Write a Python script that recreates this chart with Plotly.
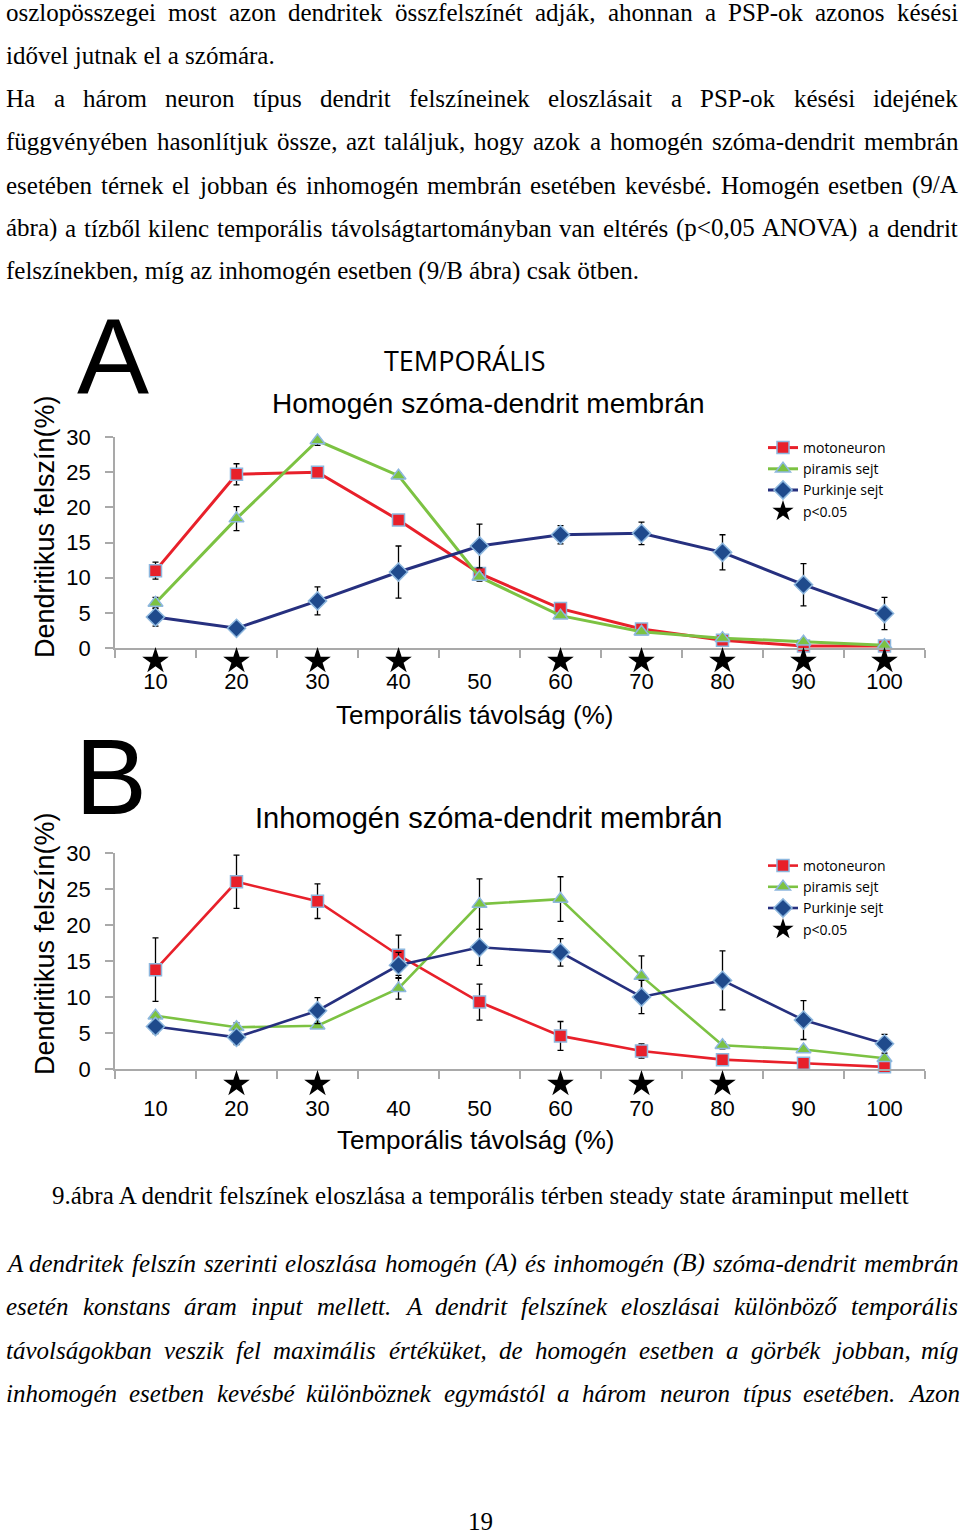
import unicodedata
import plotly.graph_objects as go

W, H = 960, 1537

# ---------------- data ----------------
distance = [10, 20, 30, 40, 50, 60, 70, 80, 90, 100]
dist_labels = ["10", "20", "30", "40", "50", "60", "70", "80", "90", "100"]
y_ticks = [0, 5, 10, 15, 20, 25, 30]
y_tick_labels = ["0", "5", "10", "15", "20", "25", "30"]

# Panel A - homogén szóma-dendrit membrán
A_moto = [11.0, 24.7, 25.0, 18.2, 10.6, 5.6, 2.7, 1.1, 0.3, 0.3]
A_moto_err = [1.2, 1.5, 0.3, 0.4, 0.8, 0.5, 0.3, 0.3, 0.3, 0.2]
A_pir = [6.4, 18.4, 29.5, 24.5, 10.1, 4.6, 2.3, 1.4, 0.9, 0.4]
A_pir_err = [0.8, 1.7, 0.7, 0.4, 0.6, 0.4, 0.3, 0.3, 0.3, 0.2]
A_purk = [4.4, 2.8, 6.7, 10.8, 14.5, 16.1, 16.3, 13.6, 9.0, 4.9]
A_purk_err = [1.3, 0.6, 2.0, 3.7, 3.1, 1.3, 1.6, 2.5, 3.0, 2.3]
A_stars = [10, 20, 30, 40, 60, 70, 80, 90, 100]

# Panel B - inhomogén szóma-dendrit membrán
B_moto = [13.8, 26.0, 23.3, 15.8, 9.3, 4.6, 2.5, 1.3, 0.8, 0.3]
B_moto_err = [4.4, 3.7, 2.4, 2.8, 2.5, 2.0, 1.0, 0.5, 0.4, 0.3]
B_pir = [7.4, 5.8, 6.0, 11.2, 22.9, 23.6, 12.9, 3.3, 2.7, 1.5]
B_pir_err = [0.4, 0.6, 0.3, 1.5, 3.5, 3.1, 2.8, 0.5, 0.3, 0.3]
B_purk = [5.9, 4.4, 8.1, 14.4, 16.9, 16.2, 10.0, 12.3, 6.8, 3.5]
B_purk_err = [1.0, 1.0, 1.8, 1.8, 2.5, 1.9, 2.3, 4.1, 2.7, 1.3]
B_stars = [20, 30, 60, 70, 80]

series_names = ["motoneuron", "piramis sejt", "Purkinje sejt"]
star_name = "p&lt;0.05"

# ---------------- page text ----------------
top_lines = [
    ("oszlopösszegei most azon dendritek összfelszínét adják, ahonnan a PSP-ok azonos késési", True),
    ("idővel jutnak el a szómára.", False),
    ("Ha a három neuron típus dendrit felszíneinek eloszlásait a PSP-ok késési idejének", True),
    ("függvényében hasonlítjuk össze, azt találjuk, hogy azok a homogén szóma-dendrit membrán", True),
    ("esetében térnek el jobban és inhomogén membrán esetében kevésbé. Homogén esetben (9/A", True),
    ("ábra) a tízből kilenc temporális távolságtartományban van eltérés (p<0,05 ANOVA) a dendrit", True),
    ("felszínekben, míg az inhomogén esetben (9/B ábra) csak ötben.", False),
]
caption = "9.ábra A dendrit felszínek eloszlása a temporális térben steady state áraminput mellett"
italic_lines = [
    "A dendritek felszín szerinti eloszlása homogén (A) és inhomogén (B) szóma-dendrit membrán",
    "esetén konstans áram input mellett. A dendrit felszínek eloszlásai különböző temporális",
    "távolságokban veszik fel maximális értéküket, de homogén esetben a görbék jobban, míg",
    "inhomogén esetben kevésbé különböznek egymástól a három neuron típus esetében. Azon",
]
page_number = "19"

# ---------------- styles ----------------
RED = "#e8202a"
GREEN = "#7cc242"
NAVY = "#26307f"
DIAMOND = "#1f4a8c"
OUTLINE = "#8db7de"
AXC = "#a9a9a9"
SANS = "Liberation Sans"
SERIF = "Liberation Serif"
TEXT_SIZE = 25

# Times metrics (1/1000 em) for justification
_lo = "abcdefghijklmnopqrstuvwxyz"
_up = "ABCDEFGHIJKLMNOPQRSTUVWXYZ"
TR = dict(zip(_lo, [444, 500, 444, 500, 444, 333, 500, 500, 278, 278, 500, 278, 778, 500, 500, 500, 500, 333, 389, 278, 500, 500, 722, 500, 500, 444]))
TR.update(zip(_up, [722, 667, 667, 722, 611, 556, 722, 722, 333, 389, 722, 611, 889, 722, 722, 556, 722, 667, 556, 611, 722, 722, 944, 722, 722, 611]))
TR.update({" ": 250, ",": 250, ".": 250, "-": 333, "(": 333, ")": 333, "/": 278, "<": 564})
TR.update({d: 500 for d in "0123456789"})
TI = dict(zip(_lo, [500, 500, 444, 500, 444, 278, 500, 500, 278, 278, 444, 278, 722, 500, 500, 500, 500, 389, 389, 278, 500, 444, 667, 444, 444, 389]))
TI.update(zip(_up, [611, 611, 667, 722, 611, 611, 722, 722, 333, 444, 667, 556, 833, 667, 722, 611, 722, 611, 500, 556, 722, 611, 833, 611, 556, 556]))
TI.update({" ": 250, ",": 250, ".": 250, "-": 333, "(": 333, ")": 333, "/": 278, "<": 675})
TI.update({d: 500 for d in "0123456789"})


def text_width(s, table, size):
    tot = 0
    for ch in s:
        b = unicodedata.normalize("NFD", ch)[0]
        tot += table.get(b, 500)
    return tot / 1000.0 * size


def esc(s):
    return s.replace("<", "&lt;")


annotations = []


def px(x):
    return x / W


def py(y):
    return 1 - y / H


def add_text(text, x, y, size, family, xanchor="center", italic=False, angle=0, color="black"):
    annotations.append(dict(
        text=esc(text), x=px(x), y=py(y), xref="paper", yref="paper",
        xanchor=xanchor, yanchor="middle", showarrow=False, textangle=angle,
        font=dict(family=family, size=size, color=color,
                  style="italic" if italic else "normal"),
    ))


def add_line(text, y, justify, italic=False, x0=4, x1=956, size=TEXT_SIZE):
    table = TI if italic else TR
    if not justify:
        add_text(text, x0, y, size, SERIF, xanchor="left", italic=italic)
        return
    words = text.split(" ")
    widths = [text_width(w, table, size) for w in words]
    gap = (x1 - x0 - sum(widths)) / (len(words) - 1)
    x = x0
    for w, wd in zip(words, widths):
        add_text(w, x, y, size, SERIF, xanchor="left", italic=italic)
        x += wd + gap


top_y = [12, 55, 98, 141, 185, 228, 271]
for (t, j), yy in zip(top_lines, top_y):
    add_line(t, yy, j)

add_text(caption, 480, 1195, TEXT_SIZE, SERIF)
for t, yy in zip(italic_lines, [1263, 1306, 1350, 1393]):
    add_line(t, yy, True, italic=True)
add_text(page_number, 480, 1521, TEXT_SIZE, SERIF)

# chart texts
add_text("A", 113, 356, 108, SANS)
add_text("B", 111, 776, 108, SANS)
add_text("TEMPORÁLIS", 465, 360, 27, "Open Sans")
add_text("Homogén szóma-dendrit membrán", 488, 404, 28, SANS)
add_text("Inhomogén szóma-dendrit membrán", 488, 818, 29, SANS)
add_text("Temporális távolság (%)", 474, 715, 26, SANS)
add_text("Temporális távolság (%)", 475, 1140, 26, SANS)
add_text("Dendritikus felszín(%)", 45, 527, 27, SANS, angle=-90)
add_text("Dendritikus felszín(%)", 45, 944, 27, SANS, angle=-90)

# ---------------- traces ----------------
fig = go.Figure()
STAR_Y = 0.5  # centre of the thin star strip under each x axis

panels = [
    ("x", "y", "y3", "legend", [A_moto, A_pir, A_purk], [A_moto_err, A_pir_err, A_purk_err], A_stars, 3.0),
    ("x2", "y2", "y4", "legend2", [B_moto, B_pir, B_purk], [B_moto_err, B_pir_err, B_purk_err], B_stars, 2.6),
]
styles = [
    (RED, "square", 12, RED),
    (GREEN, "triangle-up", 13, GREEN),
    (NAVY, "diamond", 14, DIAMOND),
]
for xa, ya, ys, leg, vals, errs, stars, lw in panels:
    for name, v, e, (lc, sym, ms, mc) in zip(series_names, vals, errs, styles):
        fig.add_trace(go.Scatter(
            x=distance, y=v, mode="lines+markers", name=name,
            line=dict(color=lc, width=lw),
            marker=dict(symbol=sym, size=ms, color=mc, line=dict(color=OUTLINE, width=1.5)),
            error_y=dict(type="data", array=e, color="black", thickness=1.3, width=3),
            xaxis=xa, yaxis=ya, legend=leg, cliponaxis=False,
        ))
    fig.add_trace(go.Scatter(
        x=stars, y=[STAR_Y] * len(stars), mode="markers", name=star_name,
        marker=dict(symbol="star", size=20, color="black"),
        xaxis=xa, yaxis=ys, legend=leg, cliponaxis=False,
    ))

minor_ticks = [5, 15, 25, 35, 45, 55, 65, 75, 85, 95, 105]


def xaxis(domain, anchor, standoff):
    return dict(
        domain=domain, anchor=anchor, range=[5, 105], tickmode="array",
        tickvals=distance, ticktext=dist_labels, ticks="outside", ticklen=8,
        tickcolor="rgba(0,0,0,0)", showline=True, linecolor=AXC, linewidth=1.5,
        showgrid=False, zeroline=False, ticklabelstandoff=standoff,
        tickfont=dict(family=SANS, size=22, color="black"),
        minor=dict(tickmode="array", tickvals=minor_ticks, ticks="outside",
                   ticklen=8, tickcolor=AXC, tickwidth=1.5, showgrid=False),
    )


def yaxis(domain, anchor):
    return dict(
        domain=domain, anchor=anchor, range=[0, 30], tickmode="array",
        tickvals=y_ticks, ticktext=y_tick_labels, ticks="outside", ticklen=8,
        tickcolor=AXC, tickwidth=1.5, showline=True, linecolor=AXC, linewidth=1.5,
        showgrid=False, zeroline=False, ticklabelstandoff=10,
        tickfont=dict(family=SANS, size=22, color="black"),
    )


def star_axis(domain, anchor):
    return dict(domain=domain, anchor=anchor, range=[0, 1], visible=False,
                showgrid=False, zeroline=False, fixedrange=True)


xd = [115 / W, 925 / W]
fig.update_layout(
    width=W, height=H, margin=dict(l=0, r=0, t=0, b=0, autoexpand=False),
    paper_bgcolor="white", plot_bgcolor="rgba(0,0,0,0)",
    xaxis=xaxis(xd, "y", 5), yaxis=yaxis([1 - 648 / H, 1 - 437 / H], "x"),
    xaxis2=xaxis(xd, "y2", 11), yaxis2=yaxis([1 - 1069 / H, 1 - 853 / H], "x2"),
    yaxis3=star_axis([1 - 674 / H, 1 - 648 / H], "x"),
    yaxis4=star_axis([1 - 1098 / H, 1 - 1070 / H], "x2"),
    legend=dict(x=px(763), y=py(432), xanchor="left", yanchor="top",
                font=dict(family="Open Sans", size=14, color="black"),
                bgcolor="rgba(0,0,0,0)", itemwidth=30, tracegroupgap=0),
    legend2=dict(x=px(763), y=py(850), xanchor="left", yanchor="top",
                 font=dict(family="Open Sans", size=14, color="black"),
                 bgcolor="rgba(0,0,0,0)", itemwidth=30, tracegroupgap=0),
    annotations=annotations,
    showlegend=True,
)

fig.write_html("out.html", config={"displayModeBar": False},
               post_script="document.body.style.margin='0';document.body.style.overflow='hidden';")
